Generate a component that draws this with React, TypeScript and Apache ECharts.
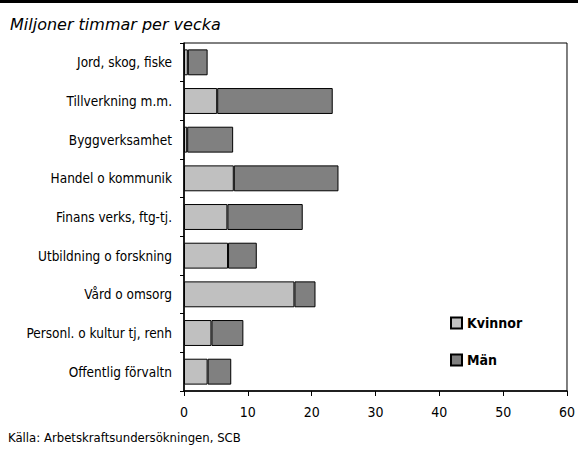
import React, { useEffect, useRef } from "react";
import * as echarts from "echarts";

const categories = [
  "Jord, skog, fiske",
  "Tillverkning m.m.",
  "Byggverksamhet",
  "Handel o kommunik",
  "Finans verks, ftg-tj.",
  "Utbildning o forskning",
  "Vård o omsorg",
  "Personl. o kultur tj, renh",
  "Offentlig förvaltn",
];
const kvinnor = [0.6, 5.2, 0.5, 7.8, 6.8, 6.9, 17.3, 4.3, 3.7];
const man = [3.1, 18.1, 7.2, 16.4, 11.8, 4.5, 3.3, 5.0, 3.7];
const seriesNames = ["Kvinnor", "Män"];
const title = "Miljoner timmar per vecka";
const source = "Källa: Arbetskraftsundersökningen, SCB";

const NARROW = "'DejaVu Sans Condensed', 'Liberation Sans Narrow', sans-serif";

export default function App() {
  const ref = useRef<HTMLDivElement>(null);
  useEffect(() => {
    document.body.style.margin = "0";
    const chart = echarts.init(ref.current!, null, { renderer: "svg" });
    chart.setOption({
      animation: false,
      backgroundColor: "#ffffff",
      title: {
        text: title,
        left: 5,
        top: 11,
        textStyle: {
          fontFamily: "'DejaVu Sans', sans-serif",
          fontStyle: "italic",
          fontWeight: "normal",
          fontSize: 16,
          color: "#000",
        },
      },
      graphic: [
        { type: "rect", shape: { x: 0, y: 0, width: 578, height: 3 }, style: { fill: "#000" } },
        {
          type: "text",
          x: 8,
          y: 437,
          style: {
            text: source,
            fontFamily: NARROW,
            fontSize: 13,
            fill: "#000",
            verticalAlign: "middle",
          },
        },
      ],
      legend: {
        orient: "vertical",
        left: 450,
        top: 316,
        padding: 0,
        itemWidth: 11,
        itemHeight: 11,
        itemGap: 23,
        icon: "rect",
        data: seriesNames,
        textStyle: { fontFamily: NARROW, fontWeight: "bold", fontSize: 14, color: "#000" },
      },
      grid: {
        left: 184,
        right: 10,
        top: 43,
        bottom: 59,
        show: true,
        borderColor: "#000",
        borderWidth: 1,
      },
      xAxis: {
        type: "value",
        min: 0,
        max: 60,
        interval: 10,
        splitLine: { show: false },
        axisLine: { show: true, lineStyle: { color: "#000", width: 1.5 } },
        axisTick: { show: true, length: 5, lineStyle: { color: "#000" } },
        axisLabel: { fontFamily: NARROW, fontSize: 14, color: "#000", margin: 14 },
      },
      yAxis: {
        type: "category",
        data: categories,
        inverse: true,
        axisLine: { show: true, lineStyle: { color: "#000", width: 1.5 } },
        axisTick: { show: true, length: 4, lineStyle: { color: "#000" } },
        axisLabel: { fontFamily: NARROW, fontSize: 13.5, color: "#000", margin: 12 },
      },
      series: [
        {
          name: seriesNames[0],
          type: "bar",
          stack: "t",
          data: kvinnor,
          barWidth: "67%",
          itemStyle: { color: "#c0c0c0", borderColor: "#000", borderWidth: 1 },
        },
        {
          name: seriesNames[1],
          type: "bar",
          stack: "t",
          data: man,
          barWidth: "67%",
          itemStyle: { color: "#808080", borderColor: "#000", borderWidth: 1 },
        },
      ],
    });
    return () => chart.dispose();
  }, []);
  return <div ref={ref} style={{ width: 578, height: 450 }} />;
}
